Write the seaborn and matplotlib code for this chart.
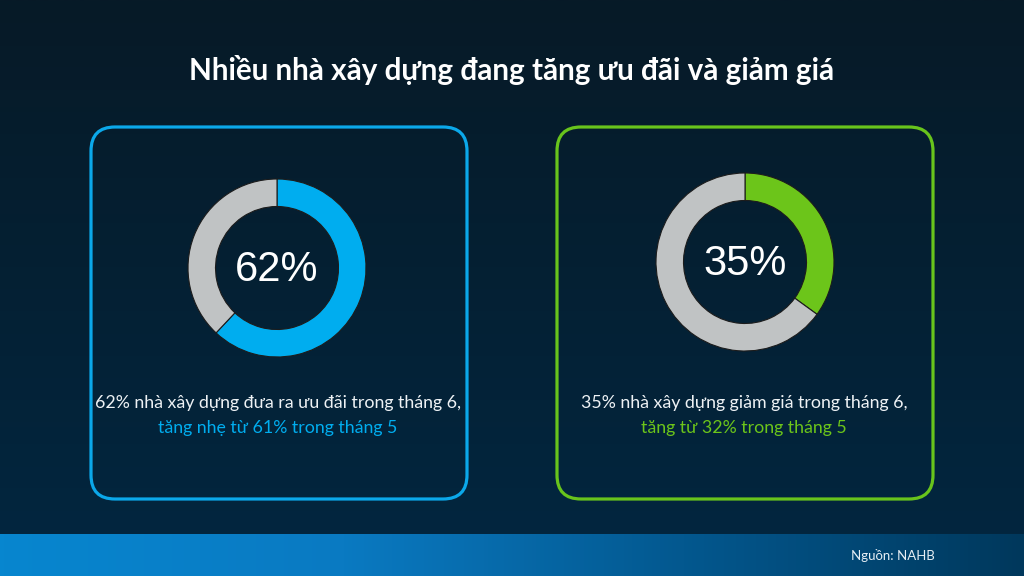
import numpy as np
import seaborn as sns
import matplotlib.pyplot as plt
from matplotlib.patches import FancyBboxPatch
from matplotlib.colors import LinearSegmentedColormap

# data
title = "Nhiều nhà xây dựng đang tăng ưu đãi và giảm giá"
shares = [62, 35]
line1 = ["62% nhà xây dựng đưa ra ưu đãi trong tháng 6,",
         "35% nhà xây dựng giảm giá trong tháng 6,"]
line2 = ["tăng nhẹ từ 61% trong tháng 5",
         "tăng từ 32% trong tháng 5"]
source = "Nguồn: NAHB"

accent = ["#00adef", "#6cc51a"]
border = ["#0ba8ea", "#68c41c"]
rest = "#c0c3c4"

sns.set_style("white")
plt.rcParams['font.family'] = ['Lato', 'DejaVu Sans']

W, H = 1024, 576
fig = plt.figure(figsize=(10.24, 5.76), dpi=100)
ax = fig.add_axes([0, 0, 1, 1])

# background gradient
bg = LinearSegmentedColormap.from_list("bg", ["#02263f", "#071a27"])
grad = np.linspace(0, 1, 256).reshape(-1, 1)
ax.imshow(grad, cmap=bg, extent=(0, W, 42, H), origin="lower", aspect="auto", zorder=0)

# footer bar
bar = LinearSegmentedColormap.from_list("bar", ["#0786cf", "#0a7ac2", "#03588f", "#00385c"])
ax.imshow(np.linspace(0, 1, 256).reshape(1, -1), cmap=bar, extent=(0, W, 0, 42),
          aspect="auto", zorder=0)

centers = [(277, 308), (745, 314)]
box_x = [91, 557]

for i, pct in enumerate(shares):
    bx = box_x[i]
    ax.add_patch(FancyBboxPatch((bx, 77), 376, 372,
                                boxstyle="round,pad=0,rounding_size=24",
                                fc="none", ec=border[i], lw=2.3, zorder=2))
    ax.pie([pct, 100 - pct], colors=[accent[i], rest], startangle=90, counterclock=False,
           center=centers[i], radius=89,
           wedgeprops=dict(width=27.5, edgecolor="#1c1c1c", linewidth=0.8))
    cx, cy = centers[i]
    ax.text(cx, cy - 2, f"{pct}%", ha="center", va="center", color="white",
            fontsize=30, family="Liberation Sans", zorder=5)
    ax.text(bx + 187, 173, line1[i], ha="center", va="center", color="#eef2f5",
            fontsize=12.8, zorder=5)
    ax.text(bx + 187, 148, line2[i], ha="center", va="center", color=accent[i],
            fontsize=12.8, zorder=5)

ax.text(W / 2, 506, title, ha="center", va="center", color="white",
        fontsize=21.3, fontweight="bold")
ax.text(935, 21, source, ha="right", va="center", color="#e6eef4", fontsize=9.5)

ax.set_xlim(0, W)
ax.set_ylim(0, H)
ax.set_aspect("auto")
ax.axis("off")

fig.savefig("out.png", dpi=100)
